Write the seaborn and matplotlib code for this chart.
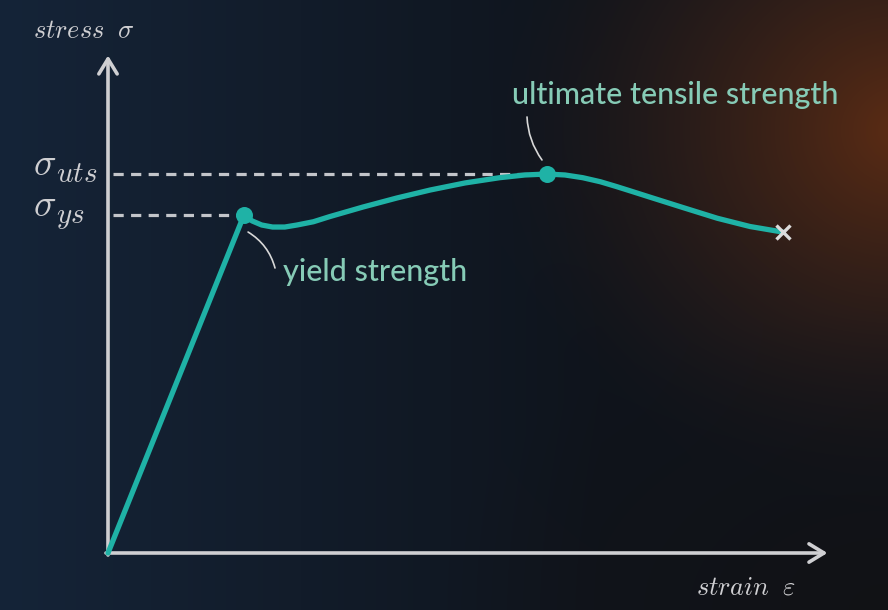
import numpy as np
import pandas as pd
import matplotlib
matplotlib.use("Agg")
import matplotlib.pyplot as plt
import seaborn as sns

# stress-strain curve (strain, stress in MPa)
strain = [0.0, 0.100, 0.106, 0.113, 0.121, 0.130, 0.139, 0.151, 0.163, 0.1875,
          0.2125, 0.237, 0.2625, 0.288, 0.3066, 0.3228, 0.336, 0.349, 0.362,
          0.374, 0.386, 0.3985, 0.4228, 0.448, 0.472, 0.496]
stress = [0.0, 250.0, 245.6, 242.6, 241.1, 241.1, 242.6, 245.0, 248.8, 255.9,
          262.6, 268.5, 273.7, 277.6, 279.6, 280.3, 279.6, 277.6, 274.6,
          271.0, 267.2, 263.2, 255.5, 247.6, 241.5, 237.4]

yield_pt = (0.100, 250.0)
uts_pt = (0.3228, 280.3)
fracture_pt = (0.496, 237.4)

point_labels = ["yield strength", "ultimate tensile strength"]
level_subs = [r"$uts$", r"$ys$"]
axis_labels = [r"$stress\ \;\sigma$", r"$strain\ \;\varepsilon$"]

teal = "#1fb2a6"
label_col = "#86cbb6"
axis_col = "#cfcfd2"

sns.set_theme(style="dark")
plt.rcParams["mathtext.fontset"] = "cm"
plt.rcParams["font.family"] = ["Lato", "DejaVu Sans"]

fig = plt.figure(figsize=(8.88, 6.10), dpi=100)

# background: dark navy board with rusty glow at top right
H, W = 610, 888
yy, xx = np.mgrid[0:H, 0:W]
navy = np.array([21, 36, 56]) / 255
dark = np.array([15, 20, 28]) / 255
rust = np.array([92, 44, 20]) / 255
t = np.clip(xx / 600.0, 0, 1)[..., None]
bg = navy * (1 - t) + dark * t
r = np.sqrt(((xx - 900) / 420.0) ** 2 + ((yy - 130) / 380.0) ** 2)
g = np.clip(1 - r, 0, 1)[..., None] ** 1.5
bg = bg * (1 - g) + rust * g
br = np.clip(1 - np.sqrt(((xx - 888) / 450.0) ** 2 + ((yy - 610) / 300.0) ** 2), 0, 1)[..., None]
bg = bg * (1 - 0.6 * br) + np.array([20, 17, 17]) / 255 * 0.6 * br
bg_ax = fig.add_axes([0, 0, 1, 1], zorder=0)
bg_ax.imshow(bg, aspect="auto", extent=[0, 1, 0, 1])
bg_ax.axis("off")

ax = fig.add_axes([0, 0, 1, 1], zorder=1)
ax.set_facecolor("none")
ax.set_xlim(-0.07941, 0.57353)
ax.set_ylim(-42.16, 409.02)

# axes arrows
arrow = dict(arrowstyle="->,head_length=0.9,head_width=0.55", lw=2.6, color=axis_col,
             shrinkA=0, shrinkB=0)
ax.annotate("", xy=(0.529, 0), xytext=(-0.0015, 0), arrowprops=arrow)
ax.annotate("", xy=(0, 368), xytext=(0, -1.5), arrowprops=arrow)

# dashed guide lines
for lvl in [uts_pt, yield_pt]:
    ax.plot([0.004, lvl[0]], [lvl[1], lvl[1]], color="#c3c5ca", lw=2.3,
            dashes=(3.2, 2.3), zorder=2)

df = pd.DataFrame({"strain": strain, "stress": stress})
sns.lineplot(data=df, x="strain", y="stress", sort=False, color=teal, lw=3.8,
             ax=ax, zorder=3)
pts = pd.DataFrame({"strain": [yield_pt[0], uts_pt[0]], "stress": [yield_pt[1], uts_pt[1]]})
sns.scatterplot(data=pts, x="strain", y="stress", color=teal, s=150, linewidth=0,
                ax=ax, zorder=4)
ax.plot(fracture_pt[0], fracture_pt[1], marker="x", ms=10, mew=2.4, color="#dcdcdc", zorder=5)
ax.axis("off")

# leader lines + labels
lead = dict(arrowstyle="-", color="#d8d8d8", lw=1.2, shrinkA=0, shrinkB=0,
            connectionstyle="arc3,rad=0.2")
ax.annotate("", xy=(0.1030, 237.4), xytext=(0.1228, 210.8), arrowprops=lead)
ax.annotate("", xy=(0.3191, 290.7), xytext=(0.3081, 322.5),
            arrowprops=dict(lead, connectionstyle="arc3,rad=0.15"))
ax.text(0.129, 208.0, point_labels[0], color=label_col, fontsize=22,
        ha="left", va="center", fontweight="medium")
ax.text(0.297, 339.0, point_labels[1], color=label_col, fontsize=22,
        ha="left", va="center", fontweight="medium")

# sigma levels on the stress axis
for lvl, sub in zip([uts_pt, yield_pt], level_subs):
    ax.text(-0.0555, lvl[1] - 0.5, r"$\sigma$", color=axis_col, fontsize=27,
            ha="left", va="baseline")
    ax.text(-0.0385, lvl[1] - 6.0, sub, color=axis_col, fontsize=21,
            ha="left", va="baseline")

ax.text(-0.0551, 381.0, axis_labels[0], color=axis_col, fontsize=19,
        ha="left", va="baseline")
ax.text(0.432, -31.0, axis_labels[1], color=axis_col, fontsize=19,
        ha="left", va="baseline")

fig.savefig("out.png", dpi=100)
